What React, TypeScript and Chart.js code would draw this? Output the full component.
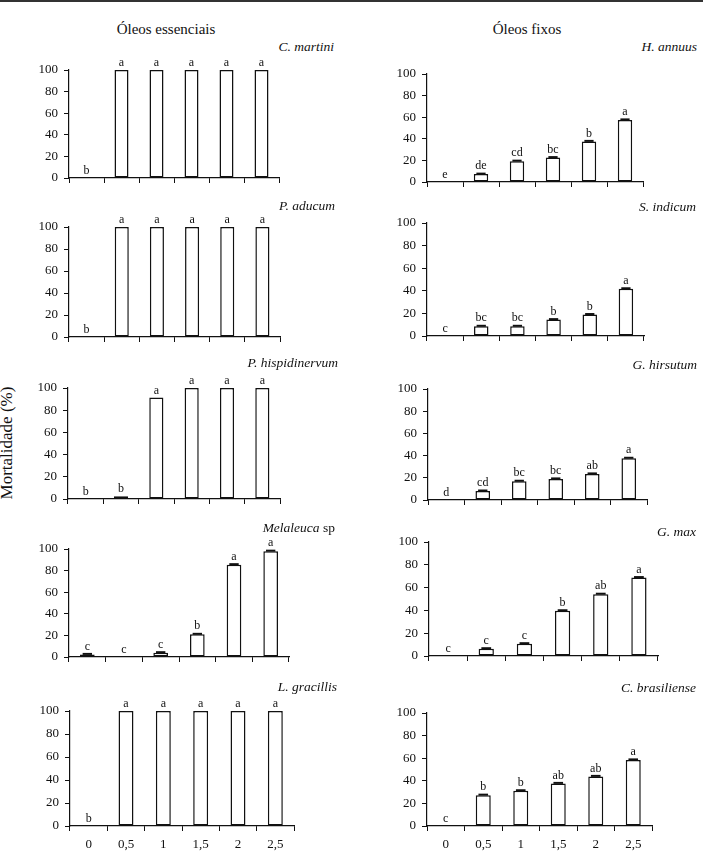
import React, { useEffect, useRef } from 'react';
import { Chart, registerables } from 'chart.js';

Chart.register(...registerables);

// ---------- data ----------
const doses = ['0', '0,5', '1', '1,5', '2', '2,5'];
const yTickValues = [0, 20, 40, 60, 80, 100];

const leftTitle = 'Óleos essenciais';
const rightTitle = 'Óleos fixos';
const yTitle = 'Mortalidade (%)';

// Óleos essenciais
const cMartini = [0, 100, 100, 100, 100, 100];
const cMartiniLetters = ['b', 'a', 'a', 'a', 'a', 'a'];
const pAducum = [0, 100, 100, 100, 100, 100];
const pAducumLetters = ['b', 'a', 'a', 'a', 'a', 'a'];
const pHispidinervum = [0, 2.5, 91.5, 100, 100, 100];
const pHispidinervumLetters = ['b', 'b', 'a', 'a', 'a', 'a'];
const melaleuca = [2.4, 0, 4, 21, 85.5, 98];
const melaleucaLetters = ['c', 'c', 'c', 'b', 'a', 'a'];
const lGracillis = [0, 100, 100, 100, 100, 100];
const lGracillisLetters = ['b', 'a', 'a', 'a', 'a', 'a'];

// Óleos fixos
const hAnnuus = [0, 7.3, 19.3, 22.6, 37.6, 57.5];
const hAnnuusLetters = ['e', 'de', 'cd', 'bc', 'b', 'a'];
const sIndicum = [0, 8.6, 8.6, 14.5, 19, 41.8];
const sIndicumLetters = ['c', 'bc', 'bc', 'b', 'b', 'a'];
const gHirsutum = [0, 8.1, 16.9, 19, 23.5, 37.6];
const gHirsutumLetters = ['d', 'cd', 'bc', 'bc', 'ab', 'a'];
const gMax = [0, 6.4, 10.8, 39.7, 54.2, 68.8];
const gMaxLetters = ['c', 'c', 'c', 'b', 'ab', 'a'];
const cBrasiliense = [0, 27.3, 31.2, 37.7, 43.9, 58.5];
const cBrasilienseLetters = ['c', 'b', 'b', 'ab', 'ab', 'a'];

// ---------- layout ----------
type Panel = {
  italic: string;
  roman?: string;
  values: number[];
  letters: string[];
  caps: boolean;
  area: [number, number, number, number]; // l, t, r, b of plot area
  label: [number, number]; // right end x, center y
  showX: boolean;
};

const panels: Panel[] = [
  { italic: 'C. martini', values: cMartini, letters: cMartiniLetters, caps: false, area: [69, 70, 279, 178], label: [334, 47], showX: false },
  { italic: 'P. aducum', values: pAducum, letters: pAducumLetters, caps: false, area: [69, 227, 280, 337], label: [335, 206], showX: false },
  { italic: 'P. hispidinervum', values: pHispidinervum, letters: pHispidinervumLetters, caps: false, area: [68, 388, 280, 499], label: [338, 363], showX: false },
  { italic: 'Melaleuca', roman: ' sp', values: melaleuca, letters: melaleucaLetters, caps: true, area: [69, 549, 289, 657], label: [335, 528], showX: false },
  { italic: 'L. gracillis', values: lGracillis, letters: lGracillisLetters, caps: false, area: [70, 711, 294, 826], label: [337, 687], showX: true },
  { italic: 'H. annuus', values: hAnnuus, letters: hAnnuusLetters, caps: true, area: [427, 74, 643, 182], label: [697, 47], showX: false },
  { italic: 'S. indicum', values: sIndicum, letters: sIndicumLetters, caps: true, area: [427, 223, 644, 336], label: [696, 207], showX: false },
  { italic: 'G. hirsutum', values: gHirsutum, letters: gHirsutumLetters, caps: true, area: [428, 389, 647, 500], label: [697, 365], showX: false },
  { italic: 'G. max', values: gMax, letters: gMaxLetters, caps: true, area: [429, 542, 658, 656], label: [696, 532], showX: false },
  { italic: 'C. brasiliense', values: cBrasiliense, letters: cBrasilienseLetters, caps: true, area: [427, 713, 652, 826], label: [696, 688], showX: true },
];

const FONT = '"Liberation Serif", "Times New Roman", serif';
const PAD_L = 60;
const PAD_R = 12;
const PAD_T = 22;
const PAD_B = 32;

const letterPlugin = {
  id: 'letters',
  afterDatasetsDraw(chart: any, _args: any, opts: any) {
    const ctx = chart.ctx;
    const meta = chart.getDatasetMeta(0);
    const letters: string[] = opts.letters || [];
    const values: number[] = chart.data.datasets[0].data;
    ctx.save();
    meta.data.forEach((bar: any, i: number) => {
      const v = values[i];
      if (opts.caps && v > 0) {
        ctx.strokeStyle = '#111';
        ctx.lineWidth = 2;
        const hw = bar.width * 0.32;
        ctx.beginPath();
        ctx.moveTo(bar.x - hw, bar.y - 0.5);
        ctx.lineTo(bar.x + hw, bar.y - 0.5);
        ctx.stroke();
      }
      ctx.fillStyle = '#111';
      ctx.font = `12px ${FONT}`;
      ctx.textAlign = 'center';
      ctx.textBaseline = 'bottom';
      ctx.fillText(letters[i] || '', bar.x, bar.y - (opts.caps && v > 0 ? 2 : 1));
    });
    ctx.restore();
  },
};

function PanelChart({ p }: { p: Panel }) {
  const ref = useRef<HTMLCanvasElement>(null);
  const [l, t, r, b] = p.area;
  const W = r - l + PAD_L + PAD_R;
  const H = b - t + PAD_T + PAD_B;

  useEffect(() => {
    if (!ref.current) return;
    const chart = new Chart(ref.current, {
      type: 'bar',
      data: {
        labels: doses,
        datasets: [
          {
            data: p.values,
            backgroundColor: '#ffffff',
            borderColor: '#111',
            borderWidth: 1.5,
            borderSkipped: false,
            barPercentage: 0.4,
            categoryPercentage: 1,
          },
        ],
      },
      options: {
        responsive: false,
        maintainAspectRatio: false,
        animation: false,
        events: [],
        layout: { padding: { top: PAD_T, right: PAD_R, left: 0, bottom: 0 } },
        plugins: {
          legend: { display: false },
          tooltip: { enabled: false },
          title: { display: false },
          letters: { letters: p.letters, caps: p.caps },
        } as any,
        scales: {
          x: {
            type: 'category',
            offset: true,
            grid: {
              display: true,
              offset: true,
              drawOnChartArea: false,
              drawTicks: true,
              tickLength: 5,
              color: '#111',
              lineWidth: 1,
            },
            border: { display: true, color: '#111', width: 1.2 },
            ticks: {
              display: p.showX,
              color: '#111',
              font: { family: FONT, size: 13 },
              padding: 6,
              maxRotation: 0,
              autoSkip: false,
            },
            afterFit: (s: any) => {
              s.height = PAD_B;
            },
          },
          y: {
            min: 0,
            max: 100,
            grid: {
              display: true,
              drawOnChartArea: false,
              drawTicks: true,
              tickLength: 5,
              color: '#111',
              lineWidth: 1,
            },
            border: { display: true, color: '#111', width: 1.2 },
            ticks: {
              color: '#111',
              font: { family: FONT, size: 13 },
              padding: 6,
            },
            afterBuildTicks: (s: any) => {
              s.ticks = yTickValues.map((v) => ({ value: v }));
            },
            afterFit: (s: any) => {
              s.width = PAD_L;
            },
          },
        },
      },
      plugins: [letterPlugin],
    } as any);
    return () => chart.destroy();
  }, []);

  return (
    <canvas
      ref={ref}
      width={W}
      height={H}
      style={{ position: 'absolute', left: l - PAD_L, top: t - PAD_T, width: W, height: H }}
    />
  );
}

export default function App() {
  return (
    <div
      style={{
        position: 'absolute',
        left: 0,
        top: 0,
        width: 703,
        height: 856,
        background: '#fff',
        fontFamily: FONT,
        color: '#111',
        overflow: 'hidden',
      }}
    >
      <div style={{ position: 'absolute', left: 0, top: 0, width: 703, height: 2, background: '#333' }} />
      <div style={{ position: 'absolute', left: 66, top: 20, width: 200, textAlign: 'center', fontSize: 15, lineHeight: '18px' }}>
        {leftTitle}
      </div>
      <div style={{ position: 'absolute', left: 427, top: 20, width: 200, textAlign: 'center', fontSize: 15, lineHeight: '18px' }}>
        {rightTitle}
      </div>
      <div
        style={{
          position: 'absolute',
          left: 7 - 80,
          top: 443 - 10,
          width: 160,
          height: 20,
          lineHeight: '20px',
          textAlign: 'center',
          fontSize: 17,
          transform: 'rotate(-90deg)',
          whiteSpace: 'nowrap',
        }}
      >
        {yTitle}
      </div>
      {panels.map((p, i) => (
        <React.Fragment key={i}>
          <div
            style={{
              position: 'absolute',
              right: 703 - p.label[0],
              top: p.label[1] - 9,
              fontSize: 13.5,
              lineHeight: '18px',
              whiteSpace: 'nowrap',
            }}
          >
            <i>{p.italic}</i>
            {p.roman || ''}
          </div>
          <PanelChart p={p} />
        </React.Fragment>
      ))}
    </div>
  );
}
